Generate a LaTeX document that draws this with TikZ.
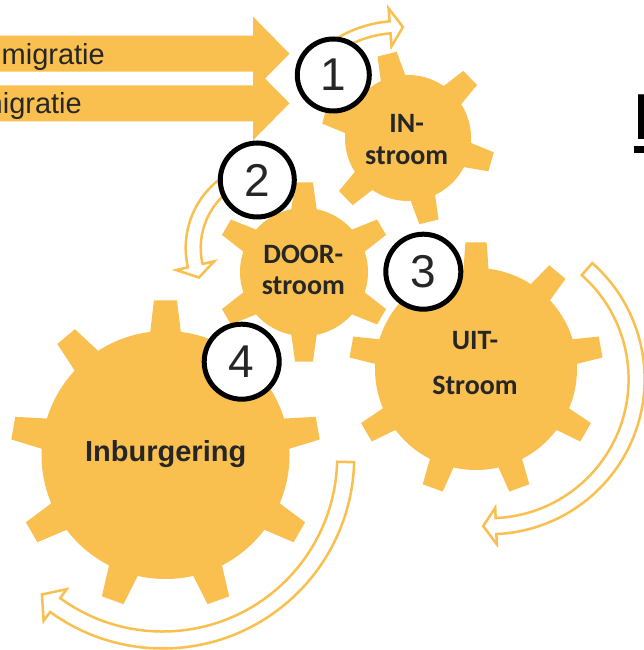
\documentclass[tikz,border=0pt]{standalone}
\usepackage{fontspec}
\setmainfont{Liberation Sans}
\newfontfamily\calib{Carlito}
\usetikzlibrary{calc}
\definecolor{gearyel}{RGB}{249,192,79}
\definecolor{txtdark}{RGB}{38,38,38}
\tikzset{
  gearfill/.style={fill=gearyel},
  curvearrow/.style={draw=gearyel, fill=white, line width=2.5pt, line join=miter},
  numcirc/.style={circle, draw=black, line width=5pt, fill=white, inner sep=0pt, text=txtdark, font=\fontsize{46}{46}\selectfont},
  gearlbl/.style={anchor=base, inner sep=0pt, text=txtdark, font=\calib\bfseries\fontsize{28}{28}\selectfont},
  migtxt/.style={anchor=base east, inner sep=0pt, text=txtdark, font=\fontsize{29}{29}\selectfont},
}
% cx, cy, R, r, n, offset, tiphalf, basehalf
\newcommand\drawgear[8]{%
  \fill[gearfill] (#1,#2) circle[radius=#4pt];
  \foreach \k in {1,...,#5}{%
    \pgfmathsetmacro\gang{#6+360*\k/#5}%
    \pgfmathsetmacro\gaa{\gang-#8}\pgfmathsetmacro\gab{\gang-#7}%
    \pgfmathsetmacro\gac{\gang+#7}\pgfmathsetmacro\gad{\gang+#8}%
    \pgfmathsetmacro\grb{#4*0.95}%
    \fill[gearfill] ($(#1,#2)+(\gaa:\grb pt)$) -- ($(#1,#2)+(\gab:#3pt)$) -- ($(#1,#2)+(\gac:#3pt)$) -- ($(#1,#2)+(\gad:\grb pt)$) -- cycle;
  }%
}
% cx, cy, r, halfwidth, a1, a2, headhalf, tipangle
\newcommand\curvarrow[8]{%
  \pgfmathsetmacro\cro{#3+#4}\pgfmathsetmacro\cri{#3-#4}%
  \pgfmathsetmacro\chro{#3+#7}\pgfmathsetmacro\chri{#3-#7}%
  \draw[curvearrow] ($(#1,#2)+(#5:\cro pt)$) arc[start angle=#5, end angle=#6, radius=\cro pt]
    -- ($(#1,#2)+(#6:\chro pt)$) -- ($(#1,#2)+(#8:#3pt)$) -- ($(#1,#2)+(#6:\chri pt)$)
    -- ($(#1,#2)+(#6:\cri pt)$) arc[start angle=#6, end angle=#5, radius=\cri pt] -- cycle;
}
\begin{document}
\begin{tikzpicture}[x=1pt,y=1pt]
\useasboundingbox (0,0) rectangle (644,650);
\clip (0,0) rectangle (644,650);
\fill[white] (0,0) rectangle (644,650);

% big input arrows
\fill[gearfill] (-5,578.3) -- (253,578.3) -- (253,559.3) -- (289.5,596.3) -- (253,633.3) -- (253,614.3) -- (-5,614.3) -- cycle;
\fill[gearfill] (-5,528.7) -- (253,528.7) -- (253,509.7) -- (289.5,546.7) -- (253,583.7) -- (253,564.7) -- (-5,564.7) -- cycle;
\node[migtxt] (t1) at (105,585) {migratie};
\node[migtxt] (t2) at (82,536.7) {migratie};

% gears
\drawgear{408}{512}{87}{63}{6}{44}{6.5}{12.5}
\drawgear{304}{378}{90}{64}{6}{90}{5.7}{12.5}
\drawgear{476}{281}{127}{101}{9}{90}{4.8}{7.7}
\drawgear{165.5}{195}{155}{124}{9}{90}{4.25}{7.85}

% curved arrows
\curvarrow{399}{509}{114}{6}{122}{94.5}{19}{88}
\curvarrow{272.2}{402.1}{79}{7.5}{118}{193}{19.5}{202}
\curvarrow{489.6}{270.8}{147}{8}{48.5}{-87.5}{18.3}{-92.5}
\curvarrow{162.7}{193}{183}{8.5}{-1.56}{-126}{19.6}{-131.3}

% gear labels
\node[gearlbl] (l1a) at (406.7,517) {IN-};
\node[gearlbl] (l1b) at (406.7,485) {stroom};
\node[gearlbl] (l2a) at (303.3,386.7) {DOOR-};
\node[gearlbl] (l2b) at (303.3,355) {stroom};
\node[gearlbl] (l3a) at (475,300) {UIT-};
\node[gearlbl] (l3b) at (475,255) {Stroom};
\node[anchor=base, inner sep=0pt, text=txtdark, font=\bfseries\fontsize{29}{29}\selectfont] (l4) at (165.7,188.3) {Inburgering};

% number circles
\node[numcirc, minimum size=72pt] (c1) at (333.3,575) {1};
\node[numcirc, minimum size=74pt] (c2) at (257.3,470) {2};
\node[numcirc, minimum size=75pt] (c3) at (423.3,378.3) {3};
\node[numcirc, minimum size=75pt] (c4) at (241.7,288.3) {4};

% cut-off title letter at right edge
\node[anchor=base west, inner sep=0pt, text=black, font=\fontsize{65}{65}\selectfont] (ttl) at (632,510.7) {I};
\fill[black] (633.5,497.3) rectangle (650,504.3);
\end{tikzpicture}
\end{document}
